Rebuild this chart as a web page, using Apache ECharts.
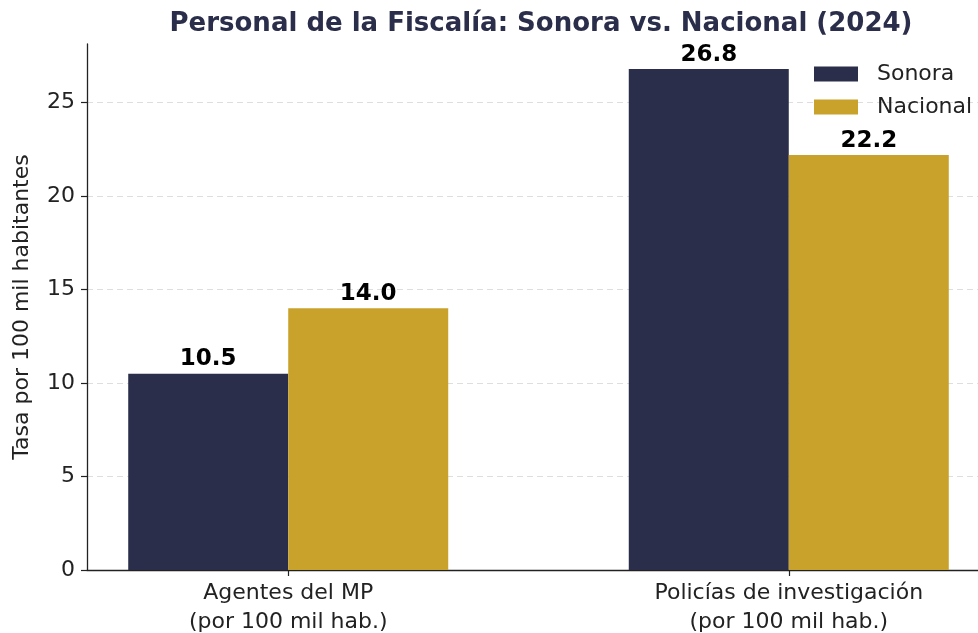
<!DOCTYPE html>
<html>
<head>
<meta charset="utf-8">
<script src="https://cdn.jsdelivr.net/npm/echarts@6/dist/echarts.min.js"></script>
<style>
  html, body { margin: 0; padding: 0; background: #fff; }
  #chart { width: 978px; height: 633px; }
</style>
</head>
<body>
<div id="chart"></div>
<script>
// datos
var categories = ['Agentes del MP\n(por 100 mil hab.)', 'Policías de investigación\n(por 100 mil hab.)'];
var sonora = [10.5, 26.8];
var nacional = [14.0, 22.2];
var yTicks = [0, 5, 10, 15, 20, 25];
var seriesNames = ['Sonora', 'Nacional'];

var navy = '#2b2e4a';
var gold = '#c9a22b';
var font = 'DejaVu Sans';

var valueLabel = {
    show: true,
    position: 'top',
    distance: 3,
    fontFamily: font,
    fontWeight: 'bold',
    fontSize: 23,
    color: '#000',
    formatter: function(p) { return p.value[1].toFixed(1); }
};

var option = {
    backgroundColor: '#fff',
    animation: false,
    title: {
        text: 'Personal de la Fiscalía: Sonora vs. Nacional (2024)',
        left: 536,
        top: 6,
        textAlign: 'center',
        textStyle: {
            fontFamily: font,
            fontWeight: 'bold',
            fontSize: 26,
            color: navy
        }
    },
    legend: {
        data: seriesNames,
        orient: 'vertical',
        left: 809,
        top: 58,
        itemWidth: 44,
        itemHeight: 15,
        itemGap: 11,
        icon: 'rect',
        textStyle: {
            fontFamily: font,
            fontSize: 22,
            color: '#222',
            lineHeight: 22,
            padding: [0, 0, 0, 14]
        }
    },
    grid: {
        left: 87,
        top: 44,
        bottom: 63,
        width: 903,
        outerBoundsMode: 'none'
    },
    xAxis: {
        type: 'value',
        min: -0.402,
        max: 1.402,
        splitLine: { show: false },
        axisLine: { show: true, onZero: false, lineStyle: { color: '#222', width: 1.3 } },
        axisTick: { show: true, customValues: [0, 1], length: 6, lineStyle: { color: '#222', width: 1.2 } },
        axisLabel: {
            customValues: [0, 1],
            margin: 9,
            fontFamily: font,
            fontSize: 22,
            color: '#222',
            lineHeight: 29,
            formatter: function(v) { return categories[Math.round(v)]; }
        }
    },
    yAxis: {
        type: 'value',
        min: 0,
        max: 28.14,
        name: 'Tasa por 100 mil habitantes',
        nameLocation: 'middle',
        nameGap: 54,
        nameTextStyle: { fontFamily: font, fontSize: 22, color: '#222' },
        axisLine: { show: true, onZero: false, lineStyle: { color: '#222', width: 1.3 } },
        axisTick: { show: true, customValues: yTicks, length: 6, lineStyle: { color: '#222', width: 1.2 } },
        axisLabel: {
            customValues: yTicks,
            margin: 12,
            fontFamily: font,
            fontSize: 22,
            color: '#222'
        },
        splitLine: {
            show: true,
            lineStyle: { color: '#dedede', type: [6, 4], width: 1 }
        }
    },
    series: [{
        name: seriesNames[0],
        type: 'bar',
        barWidth: 160,
        barGap: '0%',
        itemStyle: { color: navy },
        label: valueLabel,
        data: sonora.map(function(v, i) { return [i, v]; })
    }, {
        name: seriesNames[1],
        type: 'bar',
        barWidth: 160,
        barGap: '0%',
        itemStyle: { color: gold },
        label: valueLabel,
        data: nacional.map(function(v, i) { return [i, v]; })
    }]
};

var myChart = echarts.init(document.getElementById('chart'));
myChart.setOption(option);
</script>
</body>
</html>
